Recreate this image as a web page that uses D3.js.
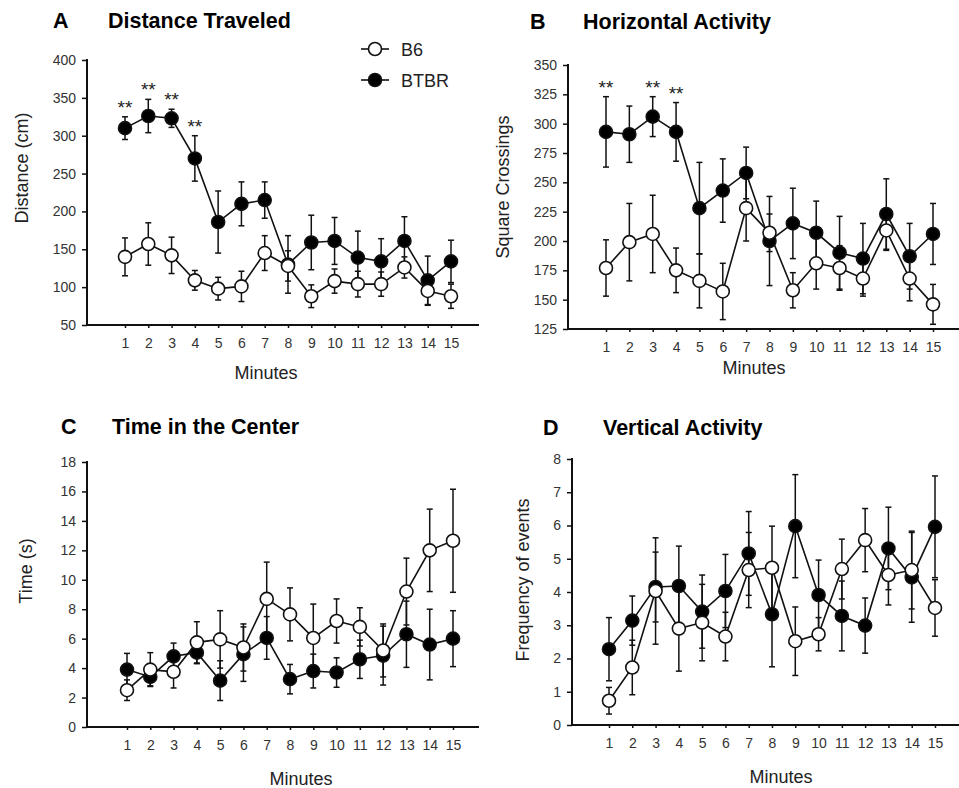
<!DOCTYPE html>
<html><head><meta charset="utf-8">
<script src="https://cdn.jsdelivr.net/npm/d3@7"></script>
<style>
body{margin:0;background:#fff;}
text{font-family:"Liberation Sans",Arial,sans-serif;}
</style></head>
<body><svg id="c" width="959" height="788"></svg>
<script>
const minutes = [1,2,3,4,5,6,7,8,9,10,11,12,13,14,15];
const seriesNames = ["B6","BTBR"];

// A: Distance Traveled (cm)
const distB6 = [140,157,142,109,98,101,145,128,88,108,104,104,126,95,88];
const distB6Err = [25,28,24,13,15,20,23,20,15,16,17,16,14,19,16];
const distBTBR = [310,326,323,270,186,210,215,130,159,161,139,134,161,109,134];
const distBTBRErr = [15,22,12,30,41,29,24,38,36,31,35,30,32,32,28];
const distTicks = [50,100,150,200,250,300,350,400];
const distStars = [1,2,3,4];

// B: Horizontal Activity (square crossings)
const horB6 = [177,199,206,175,166,157,228,207,158,181,177,168,209,168,146];
const horB6Err = [24,33,33,19,23,24,28,16,15,22,19,15,17,19,17];
const horBTBR = [293,291,306,293,228,243,258,200,215,207,190,185,223,187,206];
const horBTBRErr = [30,24,17,25,39,27,22,38,30,27,31,30,30,28,26];
const horTicks = [125,150,175,200,225,250,275,300,325,350];
const horStars = [1,3,4];

// C: Time in the Center (s)
const timeB6 = [2.5,3.9,3.75,5.75,5.95,5.4,8.7,7.65,6.05,7.2,6.8,5.2,9.2,12.0,12.65];
const timeB6Err = [0.7,1.15,1.1,1.4,1.95,1.6,2.5,1.8,2.3,1.5,1.3,1.8,2.27,2.8,3.5];
const timeBTBR = [3.9,3.4,4.8,5.05,3.15,4.95,6.05,3.25,3.8,3.7,4.6,4.85,6.3,5.6,6.0];
const timeBTBRErr = [1.1,0.6,0.9,0.75,1.35,1.85,1.45,1.0,1.15,1.0,1.3,2.0,2.25,2.4,1.9];
const timeTicks = [0,2,4,6,8,10,12,14,16,18];

// D: Vertical Activity (frequency of events)
const vertB6 = [0.73,1.73,4.03,2.9,3.08,2.66,4.66,4.73,2.52,2.73,4.69,5.56,4.51,4.66,3.52];
const vertB6Err = [0.4,0.82,1.6,1.28,1.15,0.73,1.13,1.25,1.03,0.5,0.9,0.95,0.9,1.17,0.85];
const vertBTBR = [2.28,3.14,4.15,4.18,3.41,4.03,5.16,3.33,5.98,3.91,3.28,2.99,5.31,4.44,5.96];
const vertBTBRErr = [0.95,0.74,1.05,1.2,1.1,1.1,1.26,1.58,1.55,1.05,1.05,0.83,1.24,1.35,1.53];
const vertTicks = [0,1,2,3,4,5,6,7,8];

const svg = d3.select("#c");

function panel(cfg){
  const g = svg.append("g");
  const x = d3.scaleLinear().domain([1,15]).range([cfg.x1, cfg.x15]);
  const y = d3.scaleLinear().domain(cfg.ydom).range(cfg.yrange);
  // axes
  const yAxis = d3.axisLeft(y).tickValues(cfg.yticks).tickSize(5).tickPadding(6).tickSizeOuter(0);
  const ya = g.append("g").attr("transform",`translate(${cfg.ax},0)`).call(yAxis);
  ya.select(".domain").attr("stroke","#111").attr("stroke-width",2)
    .attr("d",`M0,${cfg.yrange[1]-1}V${cfg.yrange[0]+1}`);
  ya.selectAll(".tick line").attr("stroke","#111").attr("stroke-width",1.5);
  ya.selectAll(".tick text").attr("font-size",14).attr("fill","#333");
  const xAxis = d3.axisBottom(x).tickValues(minutes).tickSize(3).tickPadding(10).tickSizeOuter(0);
  const xa = g.append("g").attr("transform",`translate(0,${cfg.yrange[0]})`).call(xAxis);
  xa.select(".domain").attr("stroke","#111").attr("stroke-width",2)
    .attr("d",`M${cfg.ax-1},0H${cfg.axEnd}`);
  xa.selectAll(".tick line").attr("stroke","#111").attr("stroke-width",1.5);
  xa.selectAll(".tick text").attr("font-size",14).attr("fill","#333");

  // titles
  g.append("text").attr("x",cfg.letterX).attr("y",cfg.titleY).attr("font-size",21.5)
    .attr("font-weight","bold").text(cfg.letter);
  g.append("text").attr("x",cfg.titleX).attr("y",cfg.titleY).attr("font-size",21.5)
    .attr("font-weight","bold").text(cfg.title);
  g.append("text").attr("transform",`translate(${cfg.ylabX},${cfg.ylabY}) rotate(-90)`)
    .attr("text-anchor","middle").attr("dominant-baseline","central").attr("font-size",18).attr("fill","#222").text(cfg.ylabel);
  g.append("text").attr("x",cfg.minX).attr("y",cfg.minY).attr("text-anchor","middle")
    .attr("font-size",18).attr("fill","#222").text("Minutes");

  const series = [
    {vals:cfg.btbr, errs:cfg.btbrErr, fill:"#000"},
    {vals:cfg.b6, errs:cfg.b6Err, fill:"#fff"}
  ];
  // error bars first
  series.forEach(s=>{
    const eb = g.append("g").attr("stroke","#111").attr("stroke-width",1.5);
    minutes.forEach((m,i)=>{
      const xv = x(m), lo = y(s.vals[i]-s.errs[i]), hi = y(s.vals[i]+s.errs[i]);
      eb.append("line").attr("x1",xv).attr("x2",xv).attr("y1",lo).attr("y2",hi);
      eb.append("line").attr("x1",xv-3).attr("x2",xv+3).attr("y1",lo).attr("y2",lo);
      eb.append("line").attr("x1",xv-3).attr("x2",xv+3).attr("y1",hi).attr("y2",hi);
    });
  });
  const line = d3.line().x((d,i)=>x(minutes[i])).y(d=>y(d));
  series.forEach(s=>{
    g.append("path").attr("d",line(s.vals)).attr("fill","none").attr("stroke","#111").attr("stroke-width",1.6);
  });
  series.forEach(s=>{
    g.append("g").selectAll("circle").data(s.vals).join("circle")
      .attr("cx",(d,i)=>x(minutes[i])).attr("cy",d=>y(d)).attr("r",6.5)
      .attr("fill",s.fill).attr("stroke","#111").attr("stroke-width",1.6);
  });
  if(cfg.stars){
    cfg.stars.forEach(m=>{
      const i = m-1;
      const top = y(cfg.btbr[i]+cfg.btbrErr[i]);
      g.append("text").attr("x",x(m)).attr("y",top-3).attr("text-anchor","middle")
        .attr("font-size",19).attr("fill","#222").text("**");
    });
  }
}

panel({ax:87, axEnd:479, x1:125, x15:451, ydom:[50,400], yrange:[325,60], yticks:distTicks,
  b6:distB6, b6Err:distB6Err, btbr:distBTBR, btbrErr:distBTBRErr, stars:distStars,
  letter:"A", letterX:53, title:"Distance Traveled", titleX:108, titleY:28,
  ylabel:"Distance (cm)", ylabX:22, ylabY:168, minX:266, minY:379});
panel({ax:568, axEnd:959, x1:606, x15:933, ydom:[125,350], yrange:[329,65], yticks:horTicks,
  b6:horB6, b6Err:horB6Err, btbr:horBTBR, btbrErr:horBTBRErr, stars:horStars,
  letter:"B", letterX:530, title:"Horizontal Activity", titleX:583, titleY:29,
  ylabel:"Square Crossings", ylabX:503, ylabY:187, minX:754, minY:374});
panel({ax:87, axEnd:479, x1:127, x15:453, ydom:[0,18], yrange:[727,462], yticks:timeTicks,
  b6:timeB6, b6Err:timeB6Err, btbr:timeBTBR, btbrErr:timeBTBRErr,
  letter:"C", letterX:61, title:"Time in the Center", titleX:112, titleY:434,
  ylabel:"Time (s)", ylabX:26, ylabY:571, minX:301, minY:785});
panel({ax:572, axEnd:959, x1:609, x15:935, ydom:[0,8], yrange:[725,459], yticks:vertTicks,
  b6:vertB6, b6Err:vertB6Err, btbr:vertBTBR, btbrErr:vertBTBRErr,
  letter:"D", letterX:543, title:"Vertical Activity", titleX:603, titleY:435,
  ylabel:"Frequency of events", ylabX:523, ylabY:580, minX:781, minY:783});

// legend
const leg = svg.append("g");
[{name:seriesNames[0], fill:"#fff", y:49},{name:seriesNames[1], fill:"#000", y:80}].forEach(d=>{
  leg.append("line").attr("x1",361).attr("x2",389).attr("y1",d.y).attr("y2",d.y).attr("stroke","#111").attr("stroke-width",1.6);
  leg.append("circle").attr("cx",375).attr("cy",d.y).attr("r",6.5).attr("fill",d.fill).attr("stroke","#111").attr("stroke-width",1.6);
  leg.append("text").attr("x",401).attr("y",d.y+6.5).attr("font-size",18).attr("fill","#222").text(d.name);
});
</script></body></html>
